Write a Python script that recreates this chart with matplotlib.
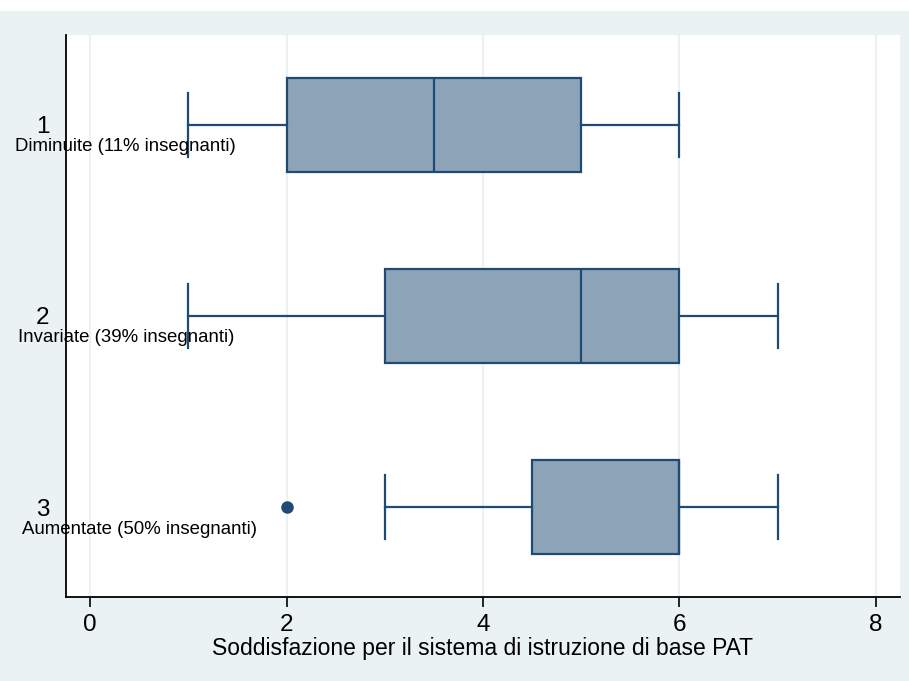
import numpy as np
import matplotlib
matplotlib.use('Agg')
import matplotlib.pyplot as plt
from matplotlib.patches import Rectangle

plt.rcParams['font.family'] = ['Liberation Sans', 'DejaVu Sans']

# dados
grupos = ['1', '2', '3']
rotulos = ['Diminuite (11% insegnanti)', 'Invariate (39% insegnanti)', 'Aumentate (50% insegnanti)']
whislo = [1, 1, 3]
q1 = [2, 3, 4.5]
med = [3.5, 5, 6]
q3 = [5, 6, 6]
whishi = [6, 7, 7]
outliers = [[], [], [2]]
xticks = [0, 2, 4, 6, 8]

fundo = '#eaf2f3'
azul = '#1f4a73'
caixa = '#8da4b8'

fig = plt.figure(figsize=(9.09, 6.81), dpi=100)
fig.patch.set_facecolor(fundo)
# faixa branca no topo
fig.patches.append(Rectangle((0, 1 - 11/681), 1, 11/681, transform=fig.transFigure,
                             facecolor='white', edgecolor='none', zorder=0))

ax = fig.add_axes([66/909, 84/681, 834/909, 562/681])
ax.set_facecolor('white')

stats = []
for i in range(len(grupos)):
    stats.append({'whislo': whislo[i], 'q1': q1[i], 'med': med[i], 'q3': q3[i],
                  'whishi': whishi[i], 'fliers': outliers[i], 'label': grupos[i]})

ax.bxp(stats, positions=[1, 2, 3], vert=False, widths=0.49, capwidths=0.335,
       patch_artist=True, showfliers=True,
       boxprops=dict(facecolor=caixa, edgecolor=azul, linewidth=1.6),
       medianprops=dict(color=azul, linewidth=1.6),
       whiskerprops=dict(color=azul, linewidth=1.6),
       capprops=dict(color=azul, linewidth=1.6),
       flierprops=dict(marker='o', markerfacecolor=azul, markeredgecolor=azul, markersize=8))

ax.set_xlim(-0.245, 8.245)
ax.set_ylim(3.471, 0.529)
ax.set_xticks(xticks)
ax.set_xticklabels([str(t) for t in xticks], fontsize=17.5)
ax.set_yticks([1, 2, 3])
ax.set_yticklabels(grupos, fontsize=17.5)
ax.tick_params(axis='y', length=0, pad=12)
ax.tick_params(axis='x', length=7, width=1.2, color='black', pad=5)
ax.grid(axis='x', color=fundo, linewidth=1.5)
ax.set_axisbelow(True)

for s in ['top', 'right']:
    ax.spines[s].set_visible(False)
for s in ['left', 'bottom']:
    ax.spines[s].set_linewidth(1.3)

ax.set_xlabel('Soddisfazione per il sistema di istruzione di base PAT', fontsize=16.5, labelpad=1)

# sotto-etichette sotto i numeri
xs = [15, 18, 22]
for i in range(len(rotulos)):
    ax.annotate(rotulos[i], xy=(0, i + 1), xycoords=('figure pixels', 'data'),
                xytext=(xs[i], -22), textcoords=('figure pixels', 'offset pixels'),
                ha='left', va='center', fontsize=13.4, annotation_clip=False)

plt.savefig('out.png', dpi=100, facecolor=fig.get_facecolor())
